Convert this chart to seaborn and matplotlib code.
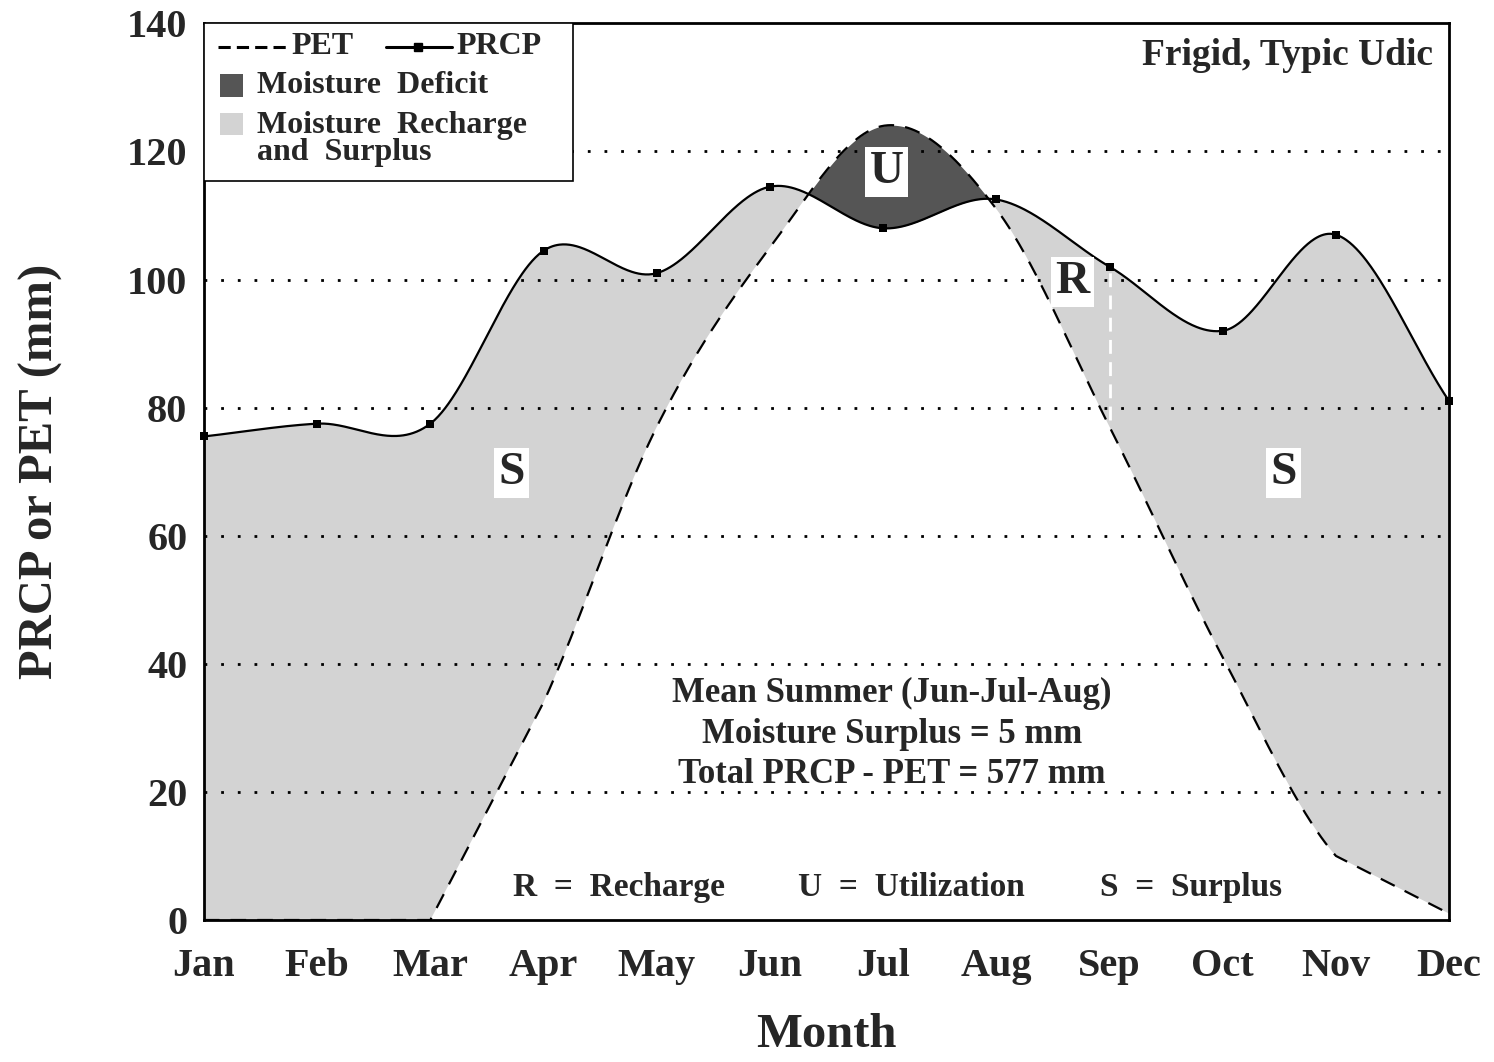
import numpy as np
import pandas as pd
import matplotlib
matplotlib.use("Agg")
import matplotlib.pyplot as plt
import seaborn as sns
from matplotlib.patches import Rectangle
from matplotlib.lines import Line2D

# ------------- DATA -------------
months = ['Jan', 'Feb', 'Mar', 'Apr', 'May', 'Jun',
          'Jul', 'Aug', 'Sep', 'Oct', 'Nov', 'Dec']
prcp = [75.5, 77.5, 77.5, 104.5, 101, 114.5, 108, 112.5, 102, 92, 107, 81]
pet = [0, 0, 0, 34, 77, 105, 124, 111, 77, 41, 10, 1]
y_ticks = [0, 20, 40, 60, 80, 100, 120, 140]


# ------------- SMOOTHING (Catmull-Rom through the points) -------------
def smooth(y, xs):
    y = np.asarray(y, float)
    n = len(y)
    m = np.zeros(n)
    m[1:-1] = (y[2:] - y[:-2]) / 2
    m[0] = y[1] - y[0]
    m[-1] = y[-1] - y[-2]
    idx = np.clip(np.floor(xs).astype(int), 0, n - 2)
    t = xs - idx
    h00 = 2 * t**3 - 3 * t**2 + 1
    h10 = t**3 - 2 * t**2 + t
    h01 = -2 * t**3 + 3 * t**2
    h11 = t**3 - t**2
    return h00 * y[idx] + h10 * m[idx] + h01 * y[idx + 1] + h11 * m[idx + 1]


mx = np.arange(len(months))
xs = np.linspace(0, len(months) - 1, 1101)
prcp_s = smooth(prcp, xs)

# PET: straight at the ends, smooth from Apr to Nov
pet_s = np.interp(xs, mx, pet)
mid = (xs >= 3) & (xs <= 10)
pet_s[mid] = smooth(pet[2:12], xs[mid] - 2)
pet_s = np.clip(pet_s, 0, None)

df = pd.DataFrame({'x': xs, 'PRCP': prcp_s, 'PET': pet_s})
pts = pd.DataFrame({'x': mx, 'PRCP': prcp})

# ------------- PLOT -------------
sns.set_style("white")
plt.rcParams['font.family'] = ['Liberation Serif', 'DejaVu Serif']
plt.rcParams['font.weight'] = 'bold'

fig, ax = plt.subplots(figsize=(14.94, 10.62), dpi=100)
fig.subplots_adjust(left=0.1365, right=0.970, top=0.978, bottom=0.1337)

light = '#d3d3d3'
dark = '#555555'

ax.fill_between(df['x'], df['PET'], df['PRCP'], where=df['PRCP'] >= df['PET'],
                interpolate=True, color=light, linewidth=0, zorder=1)
ax.fill_between(df['x'], df['PET'], df['PRCP'], where=df['PET'] > df['PRCP'],
                interpolate=True, color=dark, linewidth=0, zorder=1)

for yt in y_ticks[1:-1]:
    ax.axhline(yt, color='black', linestyle=(0, (1, 5)), linewidth=2, zorder=2)

# recharge marker line at Sep
ax.vlines(8, pet[8] + 1, prcp[8], colors='white', linestyles=(0, (5, 3)),
          linewidth=2, zorder=3)

sns.lineplot(data=df, x='x', y='PET', ax=ax, color='black', linewidth=1.6,
             linestyle=(0, (7, 5)), sort=False, estimator=None, zorder=4)
sns.lineplot(data=df, x='x', y='PRCP', ax=ax, color='black', linewidth=1.6,
             sort=False, estimator=None, zorder=4)
sns.scatterplot(data=pts, x='x', y='PRCP', ax=ax, color='black', marker='s',
                s=40, linewidth=0, zorder=5, clip_on=False)

ax.set_xlim(0, 11)
ax.set_ylim(0, 140)
ax.set_xticks(mx)
ax.set_xticklabels(months)
ax.set_yticks(y_ticks)
ax.tick_params(axis='x', length=0, pad=20, labelsize=29)
ax.tick_params(axis='y', length=0, pad=12, labelsize=29)
for lab in ax.get_xticklabels() + ax.get_yticklabels():
    lab.set_fontweight('bold')

ax.set_xlabel('Month', fontsize=35, fontweight='bold', labelpad=20)
ax.set_ylabel('PRCP or PET (mm)', fontsize=35, fontweight='bold', labelpad=46)

for sp in ax.spines.values():
    sp.set_color('black')
    sp.set_linewidth(2)
    sp.set_zorder(6)

# region letters
box = dict(facecolor='white', edgecolor='none', pad=3)
for lx, ly, txt in [(2.72, 69.8, 'S'), (6.03, 116.8, 'U'),
                    (7.67, 99.6, 'R'), (9.54, 69.8, 'S')]:
    ax.text(lx, ly, txt, fontsize=34, fontweight='bold', ha='center',
            va='center', bbox=box, zorder=7)

ax.text(0.987, 0.964, 'Frigid, Typic Udic', transform=ax.transAxes,
        ha='right', va='center', fontsize=27, fontweight='bold')

ax.text(6.08, 29.0, 'Mean Summer (Jun-Jul-Aug)\nMoisture Surplus = 5 mm\nTotal PRCP - PET = 577 mm',
        ha='center', va='center', fontsize=25, fontweight='bold', linespacing=1.3)

for kx, ktxt in [(3.667, 'R  =  Recharge'), (6.247, 'U  =  Utilization'),
                 (8.721, 'S  =  Surplus')]:
    ax.text(kx, 5.1, ktxt, ha='center', va='center', fontsize=24,
            fontweight='bold')

# legend box
fs_leg = 23
ax.add_patch(Rectangle((0, 0.824), 0.296, 0.176, transform=ax.transAxes,
                       facecolor='white', edgecolor='black', linewidth=1.2,
                       zorder=8))
ax.add_line(Line2D([0.011, 0.067], [0.974, 0.974], transform=ax.transAxes,
                   color='black', linewidth=2.2, linestyle=(0, (4, 2)), zorder=9))
ax.text(0.070, 0.974, 'PET', transform=ax.transAxes, fontsize=fs_leg,
        fontweight='bold', va='center', zorder=9)
ax.add_line(Line2D([0.146, 0.199], [0.974, 0.974], transform=ax.transAxes,
                   color='black', linewidth=2.2, zorder=9))
ax.add_line(Line2D([0.172], [0.974], transform=ax.transAxes, marker='s',
                   markersize=6, color='black', zorder=9))
ax.text(0.203, 0.974, 'PRCP', transform=ax.transAxes, fontsize=fs_leg,
        fontweight='bold', va='center', zorder=9)
ax.add_patch(Rectangle((0.013, 0.918), 0.018, 0.025, transform=ax.transAxes,
                       facecolor=dark, edgecolor='none', zorder=9))
ax.text(0.043, 0.931, 'Moisture  Deficit', transform=ax.transAxes,
        fontsize=fs_leg, fontweight='bold', va='center', zorder=9)
ax.add_patch(Rectangle((0.013, 0.875), 0.018, 0.025, transform=ax.transAxes,
                       facecolor=light, edgecolor='none', zorder=9))
ax.text(0.043, 0.871, 'Moisture  Recharge\nand  Surplus', transform=ax.transAxes,
        fontsize=fs_leg, fontweight='bold', va='center', linespacing=0.9, zorder=9)

fig.savefig('out.png', dpi=100)
